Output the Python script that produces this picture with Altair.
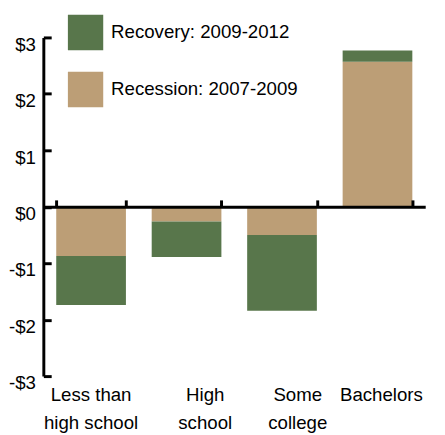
import altair as alt
import pandas as pd

categories = ["Less than|high school", "High|school", "Some|college", "Bachelors"]
recession = [-0.87, -0.26, -0.50, 2.57]
recovery = [-0.87, -0.63, -1.34, 0.20]
series_names = ["Recovery: 2009-2012", "Recession: 2007-2009"]
colors = ["#58764b", "#bc9e76"]
y_ticks = [-3, -2, -1, 0, 1, 2, 3]

rows = []
for c, a, b in zip(categories, recession, recovery):
    rows.append({"cat": c, "series": series_names[1], "value": a, "order": 0})
    rows.append({"cat": c, "series": series_names[0], "value": b, "order": 1})
df = pd.DataFrame(rows)

FONT = "Liberation Sans, Arial, sans-serif"
FS = 19
W, H = 389, 345

xscale = alt.Scale(domain=categories, paddingInner=0.27, paddingOuter=0.135)
yscale = alt.Scale(domain=[-3, 3], nice=False)

base = alt.Chart(df)

label_offsets = {
    "condition": [
        {"test": "datum.value == 'High|school'", "value": 19},
        {"test": "datum.value == 'Some|college'", "value": 16},
        {"test": "datum.value == 'Bachelors'", "value": 4},
    ],
    "value": 0,
}

bars = base.mark_bar().encode(
    x=alt.X("cat:N", scale=xscale, sort=categories, title=None,
            axis=alt.Axis(orient="bottom", domain=False, ticks=False, tickSize=0,
                          labelAngle=0, labelExpr="split(datum.label, '|')",
                          labelLineHeight=28, labelPadding=10, labelOverlap=False,
                          labelFontSize=FS, labelFont=FONT, labelColor="#000",
                          labelOffset=label_offsets)),
    y=alt.Y("value:Q", scale=yscale, stack="zero", title=None,
            axis=alt.Axis(orient="left", values=y_ticks, ticks=False, tickSize=0,
                          domain=True, domainWidth=3, domainColor="#000", grid=False,
                          labelExpr="(datum.value < 0 ? '-' : '') + '$' + abs(datum.value)",
                          labelPadding=8, labelOffset=7, labelFontSize=FS,
                          labelFont=FONT, labelColor="#000")),
    color=alt.Color("series:N", scale=alt.Scale(domain=series_names, range=colors),
                    legend=alt.Legend(title=None, orient="none", legendX=25, legendY=-23,
                                      symbolType="square", symbolSize=1296,
                                      symbolStrokeWidth=0, symbolOpacity=1,
                                      rowPadding=22, labelOffset=8, padding=0,
                                      labelFont=FONT, labelFontSize=FS,
                                      labelColor="#000", labelLimit=300)),
    order=alt.Order("order:Q"),
)

axes = base.mark_bar(opacity=0).encode(
    x=alt.X("cat:N", scale=xscale, sort=categories, title=None,
            axis=alt.Axis(orient="top", offset=-H / 2, labels=False, domain=True,
                          domainWidth=3, domainColor="#000", ticks=True,
                          tickBand="extent", tickSize=7, tickWidth=3,
                          tickColor="#000", zindex=2)),
    y=alt.Y("value:Q", scale=yscale, stack="zero", title=None,
            axis=alt.Axis(orient="right", offset=-W, labels=False, domain=False,
                          ticks=True, tickSize=8, tickWidth=3, tickColor="#000",
                          values=y_ticks, grid=False, zindex=2)),
    order=alt.Order("order:Q"),
)

chart = alt.layer(bars, axes).resolve_scale(
    x="independent", y="independent"
).properties(
    width=W, height=H,
    autosize=alt.AutoSizeParams(type="none"),
    padding={"left": 36, "top": 26, "right": 12, "bottom": 56},
).configure_view(stroke=None)

chart.save("out.html", embed_options={"renderer": "svg", "actions": False})
